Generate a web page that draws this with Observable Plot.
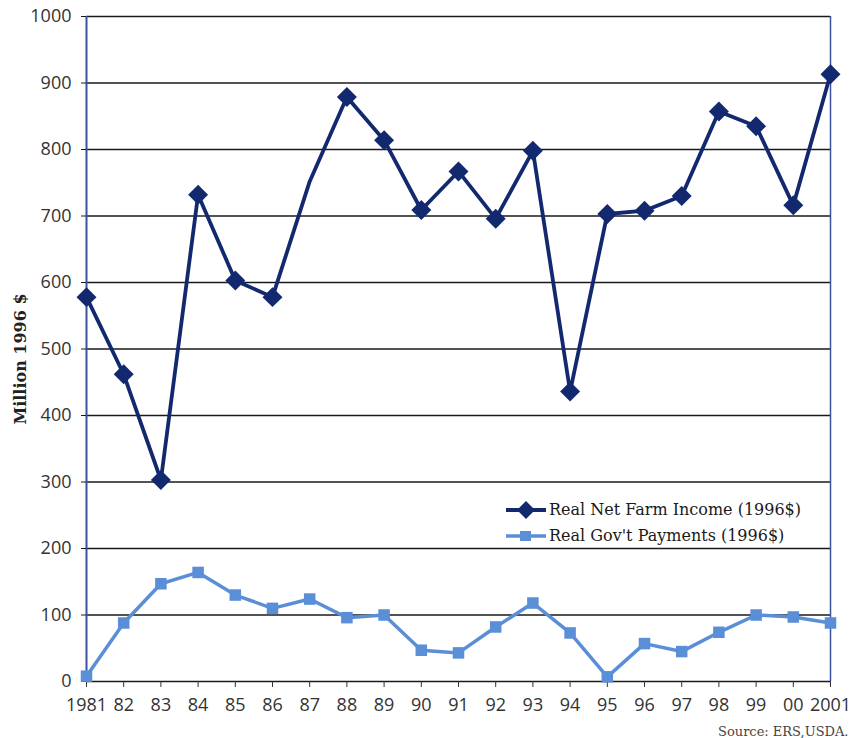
<!DOCTYPE html>
<html>
<head>
<meta charset="utf-8">
<script src="https://cdn.jsdelivr.net/npm/d3@7"></script>
<script src="https://cdn.jsdelivr.net/npm/@observablehq/plot@0.6"></script>
<style>
  html, body { margin: 0; padding: 0; background: #fff; }
  #wrap { position: relative; width: 862px; height: 738px; }
  #legend { position: absolute; left: 505px; top: 497px; font-family: "DejaVu Serif", serif; font-size: 16px; color: #1a1a1a; line-height: 26px; }
  #legend .row { display: flex; align-items: center; white-space: nowrap; }
  #legend svg { margin-right: 2px; }
</style>
</head>
<body>
<div id="wrap"></div>
<script>
const years = [1981, 1982, 1983, 1984, 1985, 1986, 1987, 1988, 1989, 1990, 1991, 1992, 1993, 1994, 1995, 1996, 1997, 1998, 1999, 2000, 2001];
const tickLabels = ["1981", "82", "83", "84", "85", "86", "87", "88", "89", "90", "91", "92", "93", "94", "95", "96", "97", "98", "99", "00", "2001"];
const netFarmIncome = [578, 462, 303, 732, 603, 578, 752, 879, 814, 709, 767, 696, 798, 436, 703, 708, 730, 857, 835, 716, 913];
const govPayments = [8, 88, 147, 164, 130, 110, 124, 96, 100, 47, 43, 82, 118, 73, 7, 57, 45, 74, 100, 97, 88];
const unmarkedIncomeYears = [1987];
const yTicks = [0, 100, 200, 300, 400, 500, 600, 700, 800, 900, 1000];
const seriesNames = ["Real Net Farm Income (1996$)", "Real Gov't Payments (1996$)"];

const navy = "#13296f";
const light = "#5a8fd8";
const axisBlue = "#3a52a0";

const income = years.map((year, i) => ({year, value: netFarmIncome[i]}));
const gov = years.map((year, i) => ({year, value: govPayments[i]}));

const chart = Plot.plot({
  width: 862,
  height: 738,
  marginLeft: 86,
  marginRight: 32,
  marginTop: 16,
  marginBottom: 57,
  style: {fontFamily: "'Open Sans', sans-serif", fontSize: "18px", color: "#333", background: "#fff"},
  x: {domain: [1981, 2001], label: null},
  y: {domain: [0, 1000], label: null},
  marks: [
    Plot.ruleY(yTicks, {stroke: "#1a1a1a", strokeWidth: 1.7}),
    Plot.ruleX([1981], {stroke: axisBlue, strokeWidth: 2}),
    Plot.ruleX([2001], {stroke: axisBlue, strokeWidth: 1.5}),
    Plot.axisX({ticks: years, tickFormat: d => tickLabels[years.indexOf(d)], tickSize: 6, tickPadding: 11, stroke: "#333", fill: "#333", label: null}),
    Plot.axisY({ticks: yTicks, tickFormat: d => String(d), tickSize: 5, tickPadding: 10, stroke: "#1a1a1a", label: null}),
    Plot.line(gov, {x: "year", y: "value", stroke: light, strokeWidth: 3.5}),
    Plot.dot(gov, {x: "year", y: "value", symbol: "square", r: 6.5, fill: light}),
    Plot.line(income, {x: "year", y: "value", stroke: navy, strokeWidth: 3.8}),
    Plot.dot(income.filter(d => !unmarkedIncomeYears.includes(d.year)), {x: "year", y: "value", symbol: "diamond2", r: 9, fill: navy}),
    Plot.text(["Million 1996 $"], {frameAnchor: "left", textAnchor: "middle", dx: -66, dy: 10, rotate: -90, fontFamily: "'DejaVu Serif', serif", fontWeight: "bold", fontSize: 16, fill: "#222"}),
    Plot.text(["Source: ERS,USDA."], {frameAnchor: "bottom-right", dx: 18, dy: 54, textAnchor: "end", fontFamily: "'DejaVu Serif', serif", fontSize: 13, fill: "#444"})
  ]
});

const wrap = document.getElementById("wrap");
wrap.appendChild(chart);

const legend = document.createElement("div");
legend.id = "legend";
legend.innerHTML = `
  <div class="row"><svg width="42" height="20"><line x1="1" y1="10" x2="41" y2="10" stroke="${navy}" stroke-width="4"/><path d="M21,1 L30,10 L21,19 L12,10 Z" fill="${navy}"/></svg><span>${seriesNames[0]}</span></div>
  <div class="row"><svg width="42" height="20"><line x1="1" y1="10" x2="41" y2="10" stroke="${light}" stroke-width="3.5"/><rect x="15" y="5" width="11" height="10" fill="${light}"/></svg><span>${seriesNames[1]}</span></div>`;
wrap.appendChild(legend);
</script>
</body>
</html>
